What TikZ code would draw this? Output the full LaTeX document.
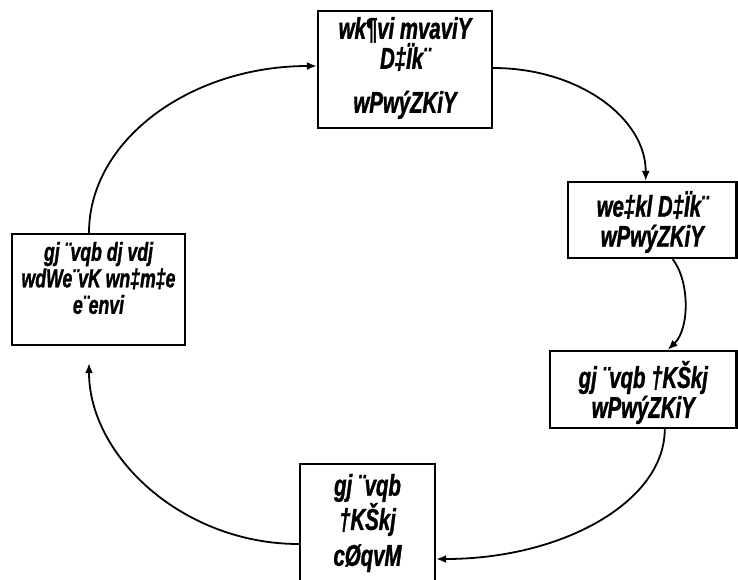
\documentclass[tikz,border=0pt]{standalone}
\usepackage{fontspec}
\usetikzlibrary{arrows.meta}
\newfontfamily\bnfont[FakeStretch=0.68, FakeBold=1.2]{Liberation Sans}
\newfontfamily\bnwide[FakeStretch=0.68, FakeBold=1.2]{Liberation Sans}

\begin{document}
\begin{tikzpicture}[x=1pt, y=-1pt, line width=1.8pt, >={Latex[length=10pt,width=8pt]},
    box/.style={rectangle, draw=black, line width=2.4pt, fill=white, inner sep=0},
    boxtext/.style={align=center, inner sep=0, font=\bnfont\bfseries\itshape\fontsize{30}{30}\selectfont}]
  \useasboundingbox (0,0) rectangle (738,579);

  \node[box,
    minimum width = 174pt,
    minimum height = 117pt] (box1) at (405, 69.5) {};
  \node[boxtext] (box1-text) at ([yshift=1.5pt]box1.center) {wk¶vi mvaviY\\D‡Ïk¨\\[14pt]wPwýZKiY};

  \node[box,
    minimum width = 168.5pt,
    minimum height = 76pt] (box2) at (652.25, 220) {};
  \node[boxtext] (box2-text) at ([yshift=-2pt]box2.center) {we‡kl D‡Ïk¨\\wPwýZKiY};

  \node[box,
    minimum width = 186.5pt,
    minimum height = 77pt] (box3) at (643.25, 389.5) {};
  \node[boxtext] (box3-text) at ([yshift=-3pt]box3.center) {gj ¨vqb †KŠkj\\wPwýZKiY};

  \node[box,
    minimum width = 135pt,
    minimum height = 120pt] (box4) at (367.5, 524) {};
  \node[boxtext] (box4-text) at ([yshift=1pt]box4.center) {gj ¨vqb\\†KŠkj\\[6pt]cØqvM};

  \node[box,
    minimum width = 173pt,
    minimum height = 111pt] (box5) at (98.5, 289.5) {};
  \node[boxtext, font=\bnwide\bfseries\itshape\fontsize{26}{26.5}\selectfont] (box5-text) at ([yshift=11.5pt]box5.center) {gj ¨vqb dj vdj\\wdWe¨vK wn‡m‡e\\e¨envi};

  \draw[->] ([xshift=-9.5pt]box5.north) .. controls +(0,-93) and +(-126,0) .. ([yshift=3.5pt]box1.west);
  \draw[->] ([yshift=1.5pt]box1.east) .. controls +(85,0) and +(0,-63) .. ([xshift=-6.5pt]box2.north);
  \draw[->] ([xshift=20.5pt]box2.south) .. controls +(17,22) and +(22,-21) .. ([xshift=24.5pt]box3.north);
  \draw[->] ([xshift=21.5pt]box3.south) .. controls +(0,72) and +(127,0) .. ([yshift=-35pt]box4.east);
  \draw[->, shorten >=17pt] ([yshift=-20pt]box4.west) .. controls +(-116,0) and +(0,110) .. ([xshift=-9.5pt]box5.south);
\end{tikzpicture}
\end{document}
